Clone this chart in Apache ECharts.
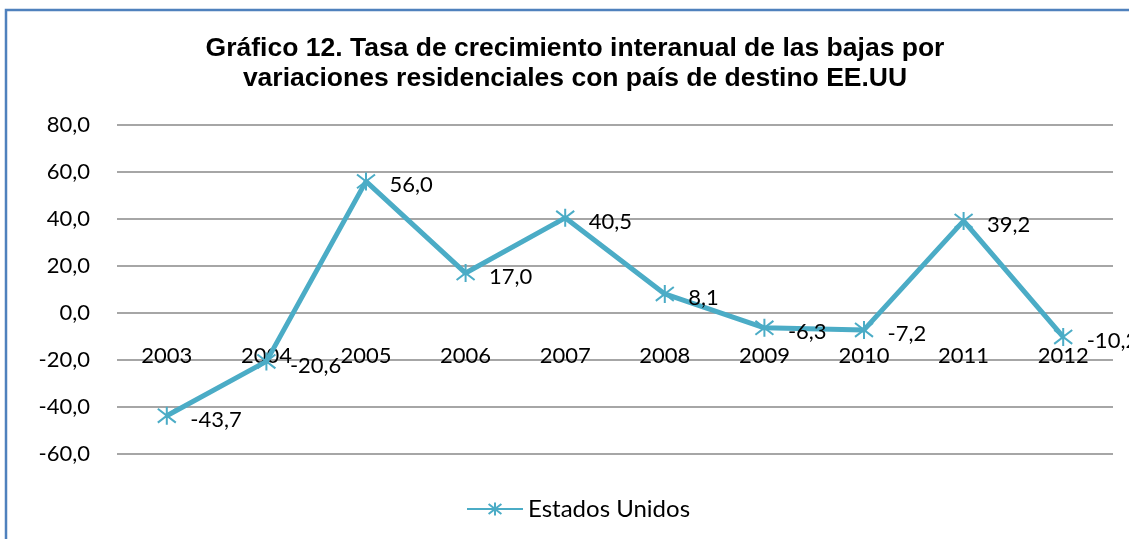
<!DOCTYPE html>
<html>
<head>
<meta charset="utf-8">
<script src="https://cdn.jsdelivr.net/npm/echarts@6/dist/echarts.min.js"></script>
<style>
  html, body { margin: 0; padding: 0; background: #fff; }
  #chart { width: 1129px; height: 539px; }
</style>
</head>
<body>
<div id="chart"></div>
<script>
// datos
const years = ['2003', '2004', '2005', '2006', '2007', '2008', '2009', '2010', '2011', '2012']
const estadosUnidos = [-43.7, -20.6, 56.0, 17.0, 40.5, 8.1, -6.3, -7.2, 39.2, -10.2]
const yTicks = [-60, -40, -20, 0, 20, 40, 60, 80]

const lineColor = '#4BACC6'
const numFont = 'Lato, "Open Sans", sans-serif'
const coma = v => Number(v).toFixed(1).replace('.', ',')

const chart = echarts.init(document.getElementById('chart'))
chart.setOption({
  animation: false,
  backgroundColor: '#fff',
  graphic: [{
    type: 'rect',
    shape: { x: 6, y: 10, width: 1300, height: 700 },
    style: { fill: 'none', stroke: '#4F81BD', lineWidth: 2.5 },
    silent: true
  }],
  title: {
    text: 'Gráfico 12. Tasa de crecimiento interanual de las bajas por\nvariaciones residenciales con país de destino EE.UU',
    left: 570,
    top: 29,
    textAlign: 'center',
    textStyle: {
      fontFamily: '"Liberation Sans", Arial, sans-serif',
      fontWeight: 'bold',
      fontSize: 26.5,
      lineHeight: 30,
      color: '#000'
    }
  },
  legend: {
    data: ['Estados Unidos'],
    bottom: 13,
    left: 461,
    itemWidth: 56,
    itemHeight: 16,
    itemGap: 6,
    textStyle: { fontFamily: numFont, fontSize: 24, color: '#000' }
  },
  grid: { left: 117, right: 16, top: 125, bottom: 85 },
  xAxis: {
    type: 'category',
    data: years,
    // etiquetas junto a la línea del cero (454 - 313 px)
    offset: -141,
    axisLine: { show: false },
    axisTick: { show: false },
    axisLabel: {
      interval: 0,
      margin: 32,
      hideOverlap: false,
      color: '#000',
      fontFamily: numFont,
      fontSize: 22
    }
  },
  yAxis: {
    type: 'value',
    min: yTicks[0],
    max: yTicks[yTicks.length - 1],
    interval: 20,
    axisLine: { show: false },
    axisTick: { show: false },
    axisLabel: {
      margin: 27,
      color: '#000',
      fontFamily: numFont,
      fontSize: 22,
      formatter: coma
    },
    splitLine: { lineStyle: { color: '#888', width: 1.5 } }
  },
  series: [{
    name: 'Estados Unidos',
    type: 'line',
    data: estadosUnidos,
    symbol: 'path://M0,0L10,10M10,0L0,10M5,-1.5L5,11.5',
    symbolSize: 18,
    showAllSymbol: true,
    lineStyle: { color: lineColor, width: 5 },
    itemStyle: { color: 'none', borderColor: lineColor, borderWidth: 2 },
    label: {
      show: true,
      position: 'right',
      distance: 12,
      offset: [0, 4],
      color: '#000',
      fontFamily: numFont,
      fontSize: 22,
      formatter: p => coma(p.value)
    }
  }]
})
</script>
</body>
</html>
